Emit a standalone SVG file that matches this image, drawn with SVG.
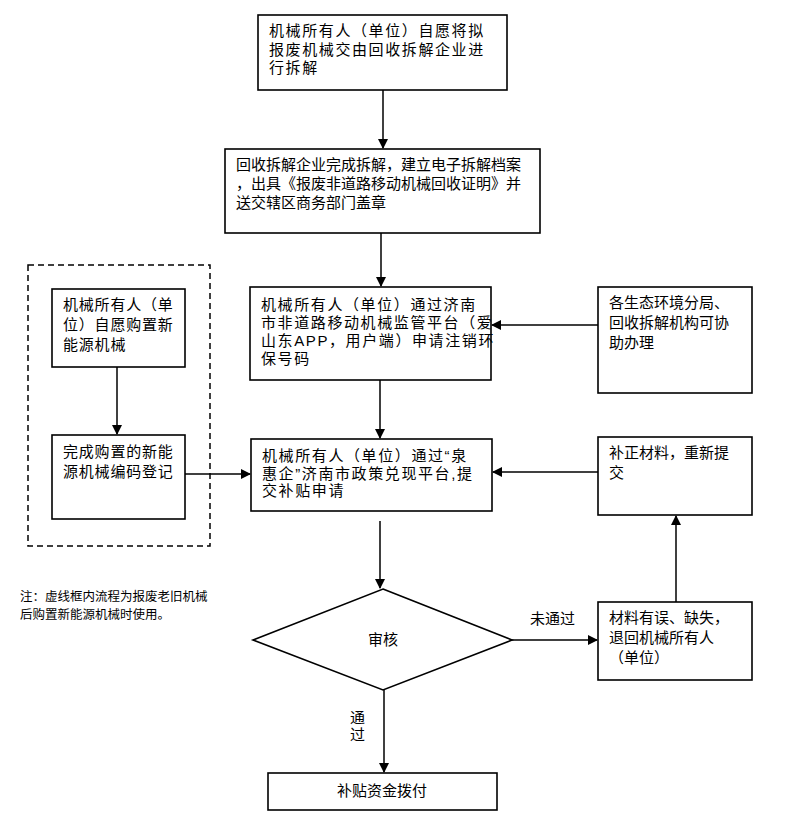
<svg xmlns="http://www.w3.org/2000/svg" width="800" height="819" viewBox="0 0 800 819">
<style>
rect.b{fill:#fff;stroke:#000;stroke-width:1.6}
text{font-family:"Liberation Sans","Noto Sans CJK SC",sans-serif;font-size:15px;fill:#000}
.w text{letter-spacing:1.6px}
.c line,.c polyline{stroke:#000;stroke-width:1.5;fill:none}
</style>
<defs><marker id="a" markerWidth="10" markerHeight="10" refX="9" refY="5" orient="auto" markerUnits="userSpaceOnUse"><path d="M0,0L10,5L0,10z" fill="#000"/></marker></defs>
<rect width="800" height="819" fill="#fff"/>
<rect x="28" y="265" width="182" height="281" fill="none" stroke="#000" stroke-width="1.5" stroke-dasharray="6,4"/>
<g id="n1" class="w"><rect class="b" x="258" y="15" width="249" height="75"/><text x="269" y="36">机械所有人（单位）自愿将拟</text><text x="269" y="55">报废机械交由回收拆解企业进</text><text x="269" y="73">行拆解</text></g>
<g id="n2"><rect class="b" x="225" y="149" width="315" height="84"/><text x="236" y="170">回收拆解企业完成拆解，建立电子拆解档案</text><text x="236" y="189">，出具《报废非道路移动机械回收证明》并</text><text x="236" y="208">送交辖区商务部门盖章</text></g>
<g id="n3" class="w"><rect class="b" x="250" y="287" width="241" height="93"/><text x="261" y="310">机械所有人（单位）通过济南</text><text x="261" y="328">市非道路移动机械监管平台（爱</text><text x="261" y="346">山东APP，用户端）申请注销环</text><text x="261" y="364">保号码</text></g>
<g id="n4" class="w"><rect class="b" x="251" y="439" width="241" height="72"/><text x="262" y="461">机械所有人（单位）通过“泉</text><text x="262" y="479">惠企”济南市政策兑现平台,提</text><text x="262" y="496">交补贴申请</text></g>
<g id="l1"><rect class="b" x="52" y="289" width="133" height="78"/><text x="63" y="310" letter-spacing="0.8">机械所有人（单</text><text x="63" y="330" letter-spacing="0.8">位）自愿购置新</text><text x="63" y="350" letter-spacing="0.8">能源机械</text></g>
<g id="l2"><rect class="b" x="52" y="435" width="133" height="84"/><text x="63" y="457" letter-spacing="0.8">完成购置的新能</text><text x="63" y="477" letter-spacing="0.8">源机械编码登记</text></g>
<g id="r1"><rect class="b" x="598" y="287" width="154" height="106"/><text x="609" y="308">各生态环境分局、</text><text x="609" y="328">回收拆解机构可协</text><text x="609" y="348">助办理</text></g>
<g id="r2"><rect class="b" x="598" y="437" width="154" height="78"/><text x="609" y="458">补正材料，重新提</text><text x="609" y="478">交</text></g>
<g id="r3"><rect class="b" x="598" y="602" width="154" height="78"/><text x="609" y="623">材料有误、缺失，</text><text x="609" y="643">退回机械所有人</text><text x="609" y="663">（单位）</text></g>
<g id="d"><polygon points="383,589 512,640 383,690 253,640" fill="#fff" stroke="#000" stroke-width="1.6"/><text x="383" y="645" text-anchor="middle">审核</text></g>
<g id="e"><rect class="b" x="268" y="773" width="229" height="37"/><text x="382" y="796" text-anchor="middle">补贴资金拨付</text></g>
<text x="20" y="601" style="font-size:12.5px">注：虚线框内流程为报废老旧机械</text>
<text x="20" y="619" style="font-size:12.5px">后购置新能源机械时使用。</text>
<text x="530" y="624">未通过</text>
<text x="350" y="723">通</text><text x="350" y="740">过</text>
<g class="c">
<line x1="383" y1="90" x2="383" y2="148" marker-end="url(#a)"/>
<line x1="381" y1="233" x2="381" y2="286" marker-end="url(#a)"/>
<line x1="380" y1="380" x2="380" y2="438" marker-end="url(#a)"/>
<line x1="380" y1="521" x2="380" y2="588" marker-end="url(#a)"/>
<line x1="598" y1="325" x2="492" y2="325" marker-end="url(#a)"/>
<line x1="598" y1="472" x2="493" y2="472" marker-end="url(#a)"/>
<line x1="512" y1="640" x2="597" y2="640" marker-end="url(#a)"/>
<line x1="676" y1="602" x2="676" y2="516" marker-end="url(#a)"/>
<line x1="117" y1="367" x2="117" y2="434" marker-end="url(#a)"/>
<line x1="185" y1="474" x2="250" y2="474" marker-end="url(#a)"/>
<line x1="384" y1="690" x2="384" y2="772" marker-end="url(#a)"/>
</g>
</svg>
